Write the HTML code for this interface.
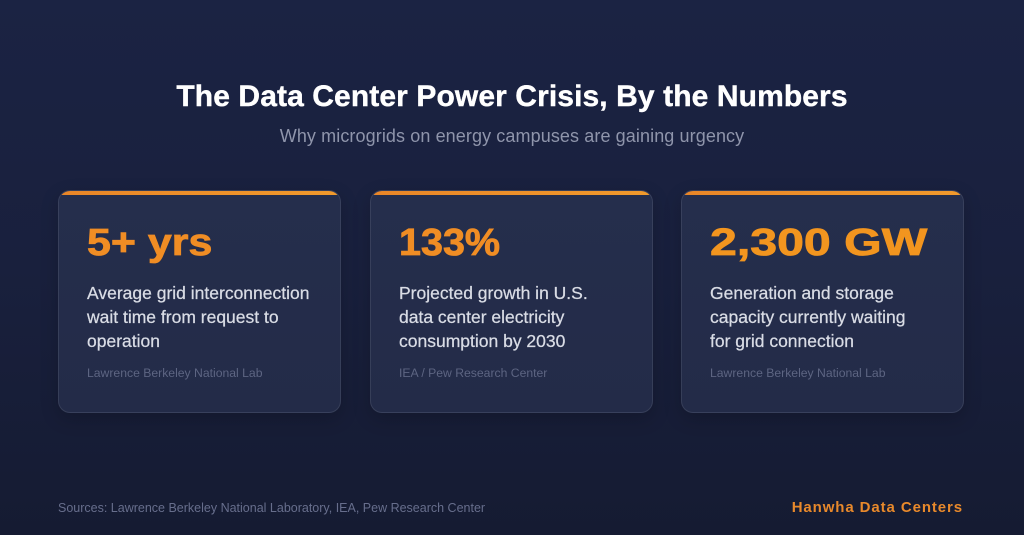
<!DOCTYPE html>
<html>
<head>
<meta charset="utf-8">
<style>
  html, body { margin:0; padding:0; }
  body {
    width:1024px; height:535px; overflow:hidden; position:relative;
    background: linear-gradient(180deg, #1b2343 0%, #19203d 50%, #151b32 100%);
    font-family: "Liberation Sans", "DejaVu Sans", sans-serif;
  }
  .abs { position:absolute; white-space:nowrap; }
  .title {
    left:0; width:1024px; top:79px; text-align:center;
    font-size:30px; line-height:36px; font-weight:bold; color:#ffffff;
    letter-spacing:0.1px; -webkit-text-stroke:0.4px #ffffff;
  }
  .sub {
    left:0; width:1024px; top:126px; text-align:center;
    font-size:18px; line-height:20px; color:#8f95ab; letter-spacing:0.1px;
  }
  .card {
    position:absolute; top:190px; width:281px; height:221px;
    border-radius:12px; overflow:hidden;
    background: linear-gradient(180deg, #252e4c 0%, #232b48 100%);
    border:1px solid rgba(255,255,255,0.09);
    box-shadow: 0 6px 18px rgba(0,0,0,0.18);
  }
  .card::before {
    content:""; position:absolute; left:0; right:0; top:0; height:4px;
    background: linear-gradient(90deg, #e98628 0%, #f19a2c 100%);
  }
  .num {
    position:absolute; left:28px; top:32px; font-size:38px; line-height:40px;
    font-weight:bold; white-space:nowrap; transform-origin:left center;
    color:#f08d24; -webkit-text-stroke:0.8px #f08d24;
  }
  .desc {
    position:absolute; left:28px; top:90px; font-size:17.5px; line-height:24px;
    color:#d9dce5; white-space:nowrap; -webkit-text-stroke:0.25px #d9dce5;
  }
  .src {
    position:absolute; left:28px; top:175px; font-size:12.2px; line-height:14px;
    color:#5d6582; white-space:nowrap;
  }
  .foot {
    left:58px; top:500px; font-size:12.5px; line-height:16px; color:#676e8c;
  }
  .brand {
    right:61px; top:499px; font-size:15px; line-height:18px; font-weight:bold;
    color:#e8892b; letter-spacing:0.9px;
  }
</style>
</head>
<body>
  <div class="abs title">The Data Center Power Crisis, By the Numbers</div>
  <div class="abs sub">Why microgrids on energy campuses are gaining urgency</div>

  <div class="card" style="left:58px;">
    <div class="num" style="transform:scaleX(1.13);">5+ yrs</div>
    <div class="desc">Average grid interconnection<br>wait time from request to<br>operation</div>
    <div class="src">Lawrence Berkeley National Lab</div>
  </div>

  <div class="card" style="left:370px;">
    <div class="num" style="transform:scaleX(1.04);">133%</div>
    <div class="desc">Projected growth in U.S.<br>data center electricity<br>consumption by 2030</div>
    <div class="src">IEA / Pew Research Center</div>
  </div>

  <div class="card" style="left:681px;">
    <div class="num" style="transform:scaleX(1.27); color:#f2951f; -webkit-text-stroke:0.8px #f2951f;">2,300 GW</div>
    <div class="desc">Generation and storage<br>capacity currently waiting<br>for grid connection</div>
    <div class="src">Lawrence Berkeley National Lab</div>
  </div>

  <div class="abs foot">Sources: Lawrence Berkeley National Laboratory, IEA, Pew Research Center</div>
  <div class="abs brand">Hanwha Data Centers</div>
</body>
</html>
